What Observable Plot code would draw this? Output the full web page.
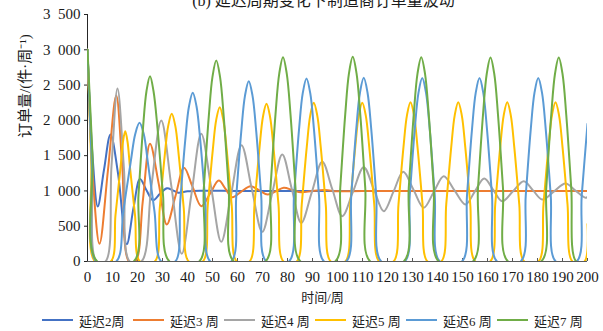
<!DOCTYPE html>
<html><head><meta charset="utf-8">
<script src="https://cdn.jsdelivr.net/npm/d3@7"></script>
<script src="https://cdn.jsdelivr.net/npm/@observablehq/plot@0.6"></script>
<style>
body{margin:0;background:#fff;}
#wrap{position:relative;width:603px;height:331px;overflow:hidden;background:#fff;font-family:"Liberation Serif","Noto Sans CJK SC",serif;}
#legend{position:absolute;left:42px;top:311px;height:18px;display:flex;align-items:center;font-size:13px;color:#222;}
.item{display:flex;align-items:center;width:91px;white-space:nowrap;}
.item svg{margin-right:6px;}
</style></head>
<body><div id="wrap"><div id="chart"></div><div id="legend"></div></div>
<script>
const seriesNames = ["延迟2周", "延迟3 周", "延迟4 周", "延迟5 周", "延迟6 周", "延迟7 周"];
const seriesColors = ["#4472C4", "#ED7D31", "#A5A5A5", "#FFC000", "#5B9BD5", "#70AD47"];
const xTicks = d3.range(0, 201, 10);
const yTicks = [0, 500, 1000, 1500, 2000, 2500, 3000, 3500];
const titleText = "(b) 延迟周期变化下制造商订单量波动";
const xLabel = "时间/周";
const yLabel = "订单量/(件·周⁻¹)";

// [week, orders]
const delay2 = [[0,3000],[2,1500],[4.1,780],[6.6,1300],[9.2,1800],[12.2,1250],[15.7,245],[18.4,760],[21,1168],[23.6,1010],[26.2,870],[29,960],[31.8,1037],[34,1010],[36.3,975],[40,995],[45,1003],[60,1000],[80,1000],[100,1000],[130,1000],[160,1000],[200,1000]];
const delay3 = [[0,3000],[2.3,1100],[4.8,250],[8.2,1300],[11.5,2352],[13.9,1350],[16.6,0],[19.2,0],[22.1,850],[25,1668],[28.5,1100],[31.7,525],[35.2,930],[38.6,1328],[42,1060],[45.5,784],[49,960],[52.5,1148],[55.2,1030],[57.9,911],[61.5,990],[65.2,1067],[68.7,1008],[72.1,949],[75.3,995],[78.5,1044],[82,1012],[85.5,980],[90,1000],[95,1012],[100,995],[110,1000],[130,1000],[160,1000],[200,1000]];
const delay4 = [[0,3000],[1.8,1300],[3.6,0],[7.2,0],[9.6,1350],[12,2450],[14.6,1300],[16.9,0],[21.6,0],[25.5,1050],[29.5,1998],[33.6,1053],[37.7,109],[41.6,960],[45.5,1809],[49.5,1044],[53.5,279],[57.5,960],[61.6,1648],[65.7,1034],[69.9,420],[73.9,970],[77.9,1516],[81.7,1030],[85.5,548],[89.7,980],[93.9,1413],[97.9,1027],[101.9,642],[106.2,990],[110.5,1336],[114.5,1025],[118.5,713],[122.4,990],[126.3,1271],[130.4,1016],[134.5,761],[138.5,985],[142.5,1209],[146.8,1008],[151.2,808],[154.9,990],[158.7,1176],[162.3,1015],[165.9,855],[170.2,995],[174.5,1138],[178.2,1008],[181.9,879],[186.5,990],[191.2,1105],[195.3,1000],[199,905],[200,911]];
const delay5 = [[0,3000],[1.5,1400],[3,0],[9.3,0],
 [11.2,660],[13.2,1330],[14.2,1700],[15.1,1846],[16,1700],[17,1330],[19,660],[21,0],
 [26.9,0],[28.9,755],[30.9,1505],[32.3,1925],[33.7,2093],[35.1,1925],[36.5,1505],[38.5,755],[40.5,0],
 [46.1,0],[48.1,790],[50.1,1575],[51.5,2010],[52.9,2186],[54.3,2010],[55.7,1575],[57.7,790],[59.7,0],
 [64.8,0],[66.8,805],[68.8,1610],[70.2,2055],[71.6,2234],[73,2055],[74.4,1610],[76.4,805],[78.4,0],
 [83.7,0],[85.7,810],[87.7,1620],[89.1,2070],[90.5,2249],[91.9,2070],[93.3,1620],[95.3,810],[97.3,0],
 [103.1,0],[105.1,810],[107.1,1620],[108.5,2070],[109.9,2250],[111.3,2070],[112.7,1620],[114.7,810],[116.7,0],
 [122.4,0],[124.4,812],[126.4,1624],[127.8,2075],[129.2,2255],[130.6,2075],[132,1624],[134,812],[136,0],
 [141.5,0],[143.5,812],[145.5,1624],[146.9,2075],[148.3,2255],[149.7,2075],[151.1,1624],[153.1,812],[155.1,0],
 [161.1,0],[163.1,812],[165.1,1624],[166.5,2075],[167.9,2255],[169.3,2075],[170.7,1624],[172.7,812],[174.7,0],
 [180.4,0],[182.4,812],[184.4,1624],[185.8,2075],[187.2,2255],[188.6,2075],[190,1624],[192,812],[194,0],
 [198.8,0],[200,530]];
const delay6 = [[0,3000],[1.7,1400],[3.5,0],[11.5,0],
 [14.3,707],[17.3,1415],[19.1,1808],[20.8,1965],[22.5,1808],[24.1,1415],[26.8,707],[29.5,0],
 [35.1,0],[37.1,860],[39.1,1720],[40.6,2200],[42.1,2390],[43.6,2200],[45.1,1720],[47.1,860],[49.1,0],
 [57.5,0],[59.5,920],[61.5,1840],[63,2350],[64.5,2555],[66,2350],[67.5,1840],[69.5,920],[71.5,0],
 [80.6,0],[82.6,935],[84.6,1865],[86.1,2385],[87.6,2593],[89.1,2385],[90.6,1865],[92.6,935],[94.6,0],
 [103.5,0],[105.5,937],[107.5,1875],[109,2395],[110.5,2603],[112,2395],[113.5,1875],[115.5,937],[117.5,0],
 [126.9,0],[128.9,936],[130.9,1872],[132.4,2392],[133.9,2600],[135.4,2392],[136.9,1872],[138.9,936],[140.9,0],
 [149.8,0],[151.8,936],[153.8,1872],[155.3,2392],[156.8,2600],[158.3,2392],[159.8,1872],[161.8,936],[163.8,0],
 [173.3,0],[175.3,936],[177.3,1872],[178.8,2392],[180.3,2600],[181.8,2392],[183.3,1872],[185.3,936],[187.3,0],
 [195.7,0],[197.7,940],[200,1950]];
const delay7 = [[0,3000],[2,1500],[3.9,0],[18.5,0],
 [20.4,945],[22.2,1890],[23.6,2416],[25,2626],[26.4,2416],[28,1890],[30.2,945],[32.8,0],
 [44.7,0],[46.5,1025],[48.5,2050],[50,2620],[51.5,2848],[53,2620],[54.5,2050],[56.5,1025],[58.5,0],
 [71.2,0],[73.2,1042],[75.2,2084],[76.7,2663],[78.2,2895],[79.7,2663],[81.2,2084],[83.2,1042],[85.2,0],
 [99.1,0],[101.1,1044],[103.1,2088],[104.6,2668],[106.1,2900],[107.6,2668],[109.1,2088],[111.1,1044],[113.1,0],
 [126.5,0],[128.5,1042],[130.5,2084],[132,2663],[133.5,2895],[135,2663],[136.5,2084],[138.5,1042],[140.5,0],
 [154.2,0],[156.2,1040],[158.2,2080],[159.7,2660],[161.2,2890],[162.7,2660],[164.2,2080],[166.2,1040],[168.2,0],
 [181.5,0],[183.5,1040],[185.5,2080],[187,2660],[188.5,2890],[190,2660],[191.5,2080],[193.5,1040],[195.5,0],
 [200,0]];

const allSeries = [delay2, delay3, delay4, delay5, delay6, delay7];
const rows = allSeries.flatMap((s, i) => s.map(([t, v]) => ({t, v, s: seriesNames[i]})));
const fmt = d => d3.format(",")(d).replace(/,/g, "\u2002");

const chart = Plot.plot({
  width: 603, height: 308,
  marginLeft: 87, marginRight: 16, marginTop: 14, marginBottom: 47,
  style: {fontFamily: '"Liberation Serif","Noto Sans CJK SC",serif', fontSize: "15px", color: "#1a1a1a", background: "#fff"},
  x: {domain: [0, 200]},
  y: {domain: [0, 3500]},
  color: {domain: seriesNames, range: seriesColors},
  marks: [
    Plot.axisY({ticks: yTicks, tickSize: 3, tickPadding: 4, tickFormat: fmt, label: null, stroke: "#262626"}),
    Plot.axisX({ticks: xTicks, tickSize: -3, tickPadding: 13, tickFormat: d => String(d), label: null, stroke: "#595959"}),
    Plot.ruleY([0], {stroke: "#595959"}),
    Plot.ruleX([0], {stroke: "#262626"}),
    Plot.line(rows, {x: "t", y: "v", z: "s", stroke: "s", strokeWidth: 2, curve: "catmull-rom", clip: true}),
    Plot.text([yLabel], {frameAnchor: "left", rotate: -90, dx: -62, fontSize: 15, fill: "#1a1a1a"}),
    Plot.text([xLabel], {frameAnchor: "bottom", dx: -15, dy: 36, lineAnchor: "middle", fontSize: 13, fill: "#1a1a1a"}),
    Plot.text([titleText], {frameAnchor: "top", dx: -14, dy: -9, lineAnchor: "bottom", fontSize: 16, fill: "#1a1a1a"})
  ]
});
document.getElementById("chart").appendChild(chart);

const legend = d3.select("#legend");
seriesNames.forEach((n, i) => {
  const item = legend.append("div").attr("class", "item");
  const sv = item.append("svg").attr("width", 31).attr("height", 6);
  sv.append("line").attr("x1", 0).attr("x2", 31).attr("y1", 3).attr("y2", 3).attr("stroke", seriesColors[i]).attr("stroke-width", 2);
  item.append("span").text(n);
});
</script>
</body></html>
